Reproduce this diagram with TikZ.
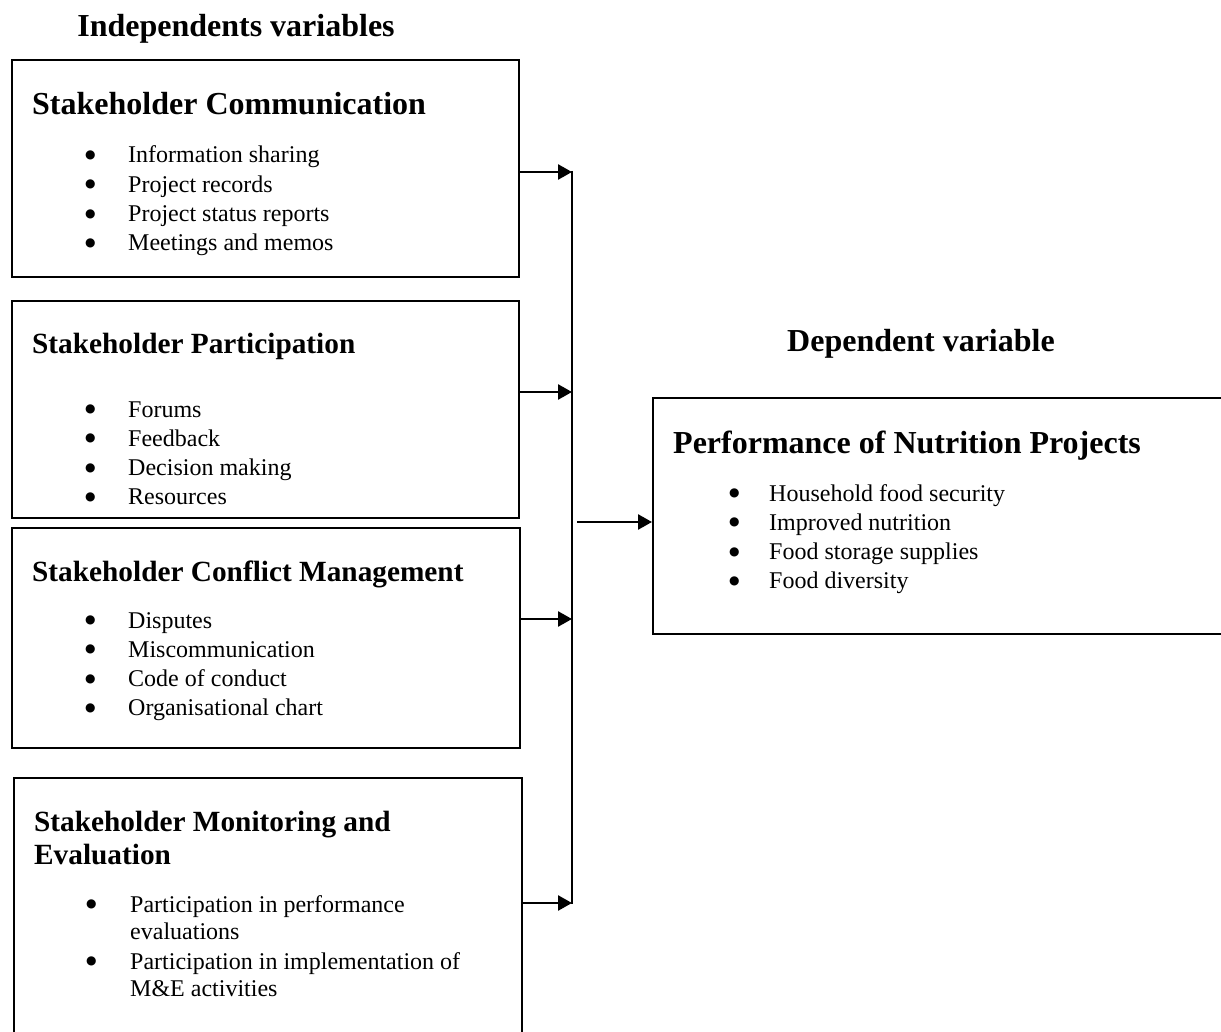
\documentclass[tikz,border=0pt]{standalone}
\usepackage{fontspec}
\setmainfont{Liberation Serif}
\newfontfamily\bulfont{DejaVu Sans}
\usetikzlibrary{arrows.meta}
\newcommand\bigbul{\raisebox{4.5pt}{\bulfont\fontsize{12}{0}\selectfont ●}}
\begin{document}
\begin{tikzpicture}[x=1pt,y=-1pt,
  box/.style={draw, line width=1.8pt, rectangle, inner sep=0pt, anchor=north west},
  bighead/.style={inner sep=0pt, anchor=base west, font=\fontsize{32}{38}\selectfont\bfseries},
  smallhead/.style={inner sep=0pt, anchor=base west, font=\fontsize{29.3}{35}\selectfont\bfseries},
  toptitle/.style={inner sep=0pt, anchor=base, font=\fontsize{32}{38}\selectfont\bfseries},
  itemlist/.style={inner sep=0pt, anchor=base west, font=\fontsize{24}{29.3}\selectfont},
  bus/.style={line width=2pt},
  arr/.style={line width=2.6pt, -{Triangle[length=14pt,width=15pt]}}
]
\useasboundingbox (0,0) rectangle (1221,1032);
\clip (0,0) rectangle (1221,1032);

% titles
\node[toptitle] (indep) at (236,37) {Independents variables};
\node[toptitle] (dep) at (921,352) {Dependent variable};

% box 1
\node[box, minimum width=507pt, minimum height=217pt] (b1) at (11,59) {};
\node[bighead] (t1) at (32,115) {Stakeholder Communication};
\node[itemlist] (l1) at (85,163) {\begin{tabular}[t]{@{}p{43pt}@{}l@{}}
\bigbul & Information sharing\\
\bigbul & Project records\\
\bigbul & Project status reports\\
\bigbul & Meetings and memos
\end{tabular}};

% box 2
\node[box, minimum width=507pt, minimum height=217pt] (b2) at (11,300) {};
\node[smallhead] (t2) at (32,353) {Stakeholder Participation};
\node[itemlist] (l2) at (85,417) {\begin{tabular}[t]{@{}p{43pt}@{}l@{}}
\bigbul & Forums\\
\bigbul & Feedback\\
\bigbul & Decision making\\
\bigbul & Resources
\end{tabular}};

% box 3
\node[box, minimum width=508pt, minimum height=220pt] (b3) at (11,527) {};
\node[smallhead] (t3) at (32,581) {Stakeholder Conflict Management};
\node[itemlist] (l3) at (85,628) {\begin{tabular}[t]{@{}p{43pt}@{}l@{}}
\bigbul & Disputes\\
\bigbul & Miscommunication\\
\bigbul & Code of conduct\\
\bigbul & Organisational chart
\end{tabular}};

% box 4
\node[box, minimum width=508pt, minimum height=270pt] (b4) at (13,777) {};
\node[smallhead] (t4a) at (34,831) {Stakeholder Monitoring and};
\node[smallhead] (t4b) at (34,864) {Evaluation};
\node[itemlist, font=\fontsize{24}{27}\selectfont] (l4) at (86,912) {\begin{tabular}[t]{@{}p{44pt}@{}l@{}}
\bigbul & Participation in performance\\
 & evaluations\\[3pt]
\bigbul & Participation in implementation of\\
 & M\&E activities
\end{tabular}};

% right box
\node[box, minimum width=590pt, minimum height=236pt] (rb) at (652,397) {};
\node[bighead] (tr) at (673,453) {Performance of Nutrition Projects};
\node[itemlist] (lr) at (729,501) {\begin{tabular}[t]{@{}p{40pt}@{}l@{}}
\bigbul & Household food security\\
\bigbul & Improved nutrition\\
\bigbul & Food storage supplies\\
\bigbul & Food diversity
\end{tabular}};

% bus and connectors
\coordinate (j1) at (572,172);
\coordinate (j2) at (572,392);
\coordinate (j3) at (572,619);
\coordinate (j4) at (572,903);
\coordinate (bt) at (572,171);
\coordinate (bb) at (572,904);
\coordinate (s5) at (577,522);

\draw[bus] (bt) -- (bb);
\draw[arr] (b1.east |- j1) -- (j1);
\draw[arr] (b2.east |- j2) -- (j2);
\draw[arr] (b3.east |- j3) -- (j3);
\draw[arr] (b4.east |- j4) -- (j4);
\draw[arr] (s5) -- (s5 -| rb.west);
\end{tikzpicture}
\end{document}
